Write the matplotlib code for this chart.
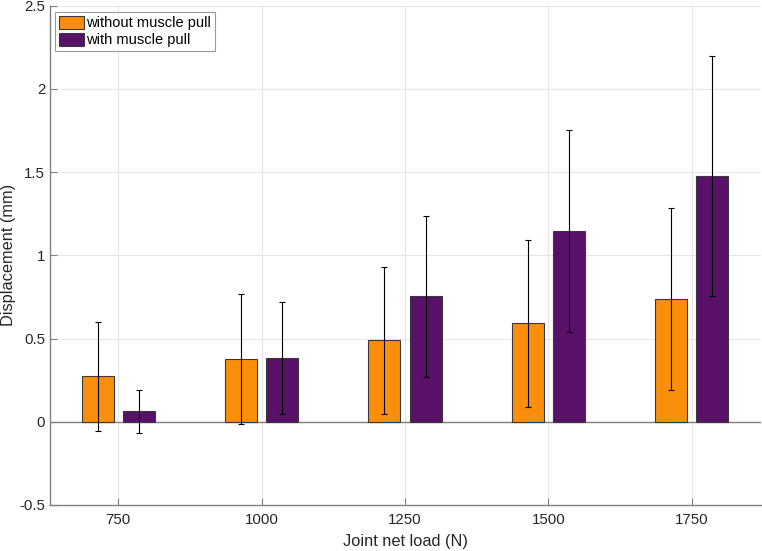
import matplotlib
matplotlib.use("Agg")
import matplotlib.pyplot as plt
import numpy as np
from matplotlib.ticker import FuncFormatter

loads = [750, 1000, 1250, 1500, 1750]
without_mean = [0.273, 0.378, 0.491, 0.592, 0.739]
without_err = [0.326, 0.390, 0.442, 0.503, 0.547]
with_mean = [0.063, 0.382, 0.753, 1.146, 1.476]
with_err = [0.128, 0.338, 0.484, 0.606, 0.720]
labels = ["without muscle pull", "with muscle pull"]
xlabel = "Joint net load (N)"
ylabel = "Displacement (mm)"

plt.rcParams['font.family'] = ['Liberation Sans', 'DejaVu Sans']

fig = plt.figure(figsize=(7.62, 5.51), dpi=100)
ax = fig.add_axes([50/762, 46/551, 711/762, (505-5.7)/551])

x = np.array(loads, dtype=float)
off = 36
w = 56
orange = '#F98E0B'
purple = '#581068'
ax.bar(x - off, without_mean, width=w, color=orange, edgecolor='#3a3a3a', linewidth=0.8, label=labels[0], zorder=3)
ax.bar(x + off, with_mean, width=w, color=purple, edgecolor='#3a3a3a', linewidth=0.8, label=labels[1], zorder=3)
ax.errorbar(x - off, without_mean, yerr=without_err, fmt='none', ecolor='black', elinewidth=0.8, capsize=2.5, capthick=0.8, zorder=4)
ax.errorbar(x + off, with_mean, yerr=with_err, fmt='none', ecolor='black', elinewidth=0.8, capsize=2.5, capthick=0.8, zorder=4)

ax.set_xlim(631, 1871)
ax.set_ylim(-0.5, 2.5)
ax.set_xticks(loads)
ax.set_yticks(np.arange(-0.5, 2.51, 0.5))
ax.yaxis.set_major_formatter(FuncFormatter(lambda v, p: ('%g' % round(v, 3))))
ax.grid(True, color='#e6e6e6', linewidth=0.8, zorder=0)
ax.set_axisbelow(True)
for s in ['top', 'right']:
    ax.spines[s].set_visible(False)
for s in ['left', 'bottom']:
    ax.spines[s].set_color('#808080')
    ax.spines[s].set_linewidth(1.0)
ax.tick_params(direction='in', length=5, color='#808080', labelsize=10.8, labelcolor='#262626')
ax.tick_params(axis='x', pad=6)
ax.axhline(0, color='#808080', linewidth=1.0, zorder=2.5)
ax.set_xlabel(xlabel, fontsize=11.8, color='#262626', labelpad=5)
ax.set_ylabel(ylabel, fontsize=11.8, color='#262626', labelpad=2)

leg = ax.legend(loc='upper left', bbox_to_anchor=(5/711, 1 - 6.6/499.3), fontsize=10.5,
                frameon=True, fancybox=False, edgecolor='#808080', borderpad=0.25,
                handlelength=1.75, handleheight=1.0, handletextpad=0.15, labelspacing=0.15,
                borderaxespad=0)
leg.get_frame().set_linewidth(0.8)

fig.savefig('out.png', dpi=100)
